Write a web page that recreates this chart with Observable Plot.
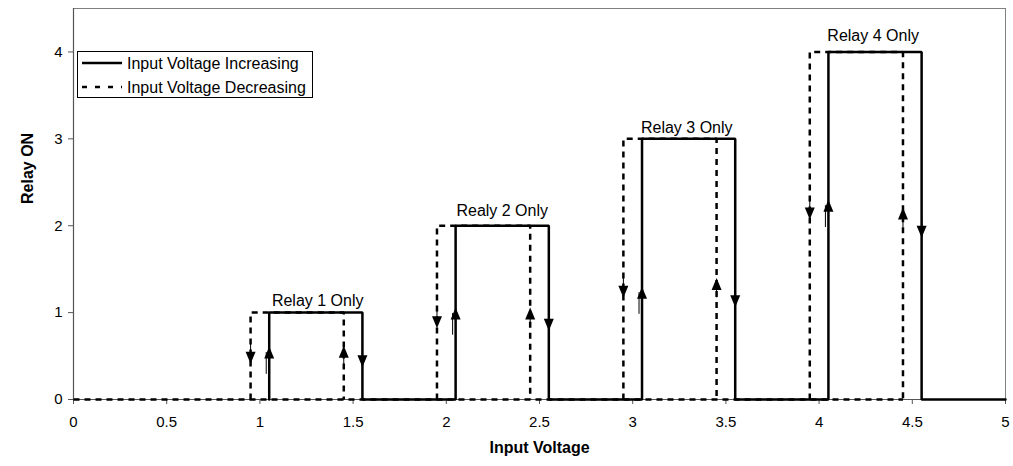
<!DOCTYPE html>
<html>
<head>
<meta charset="utf-8">
<script src="https://cdn.jsdelivr.net/npm/d3@7"></script>
<script src="https://cdn.jsdelivr.net/npm/@observablehq/plot@0.6"></script>
<style>
  html, body { margin: 0; padding: 0; background: #fff; }
  #wrap { position: relative; width: 1013px; height: 466px; font-family: "Liberation Sans", Arial, sans-serif; }
  #legend { position: absolute; left: 77px; top: 51px; width: 234px; height: 45px; border: 1px solid #000; background: #fff; }
  #legend svg { position: absolute; left: 0; top: 0; }
</style>
</head>
<body>
<div id="wrap"></div>
<script>
// Increasing input voltage (solid) path
const incX = [1.05, 1.05, 1.55, 1.55, 2.05, 2.05, 2.55, 2.55, 3.05, 3.05, 3.55, 3.55, 4.05, 4.05, 4.55, 4.55, 5];
const incY = [0, 1, 1, 0, 0, 2, 2, 0, 0, 3, 3, 0, 0, 4, 4, 0, 0];

// Decreasing input voltage (dashed) pieces
const decSeg = [0, 0, 1, 1, 1, 1, 2, 2, 2, 2, 3, 3, 3, 3, 4, 4, 4, 4];
const decX = [0, 4.45, 0.95, 0.95, 1.45, 1.45, 1.95, 1.95, 2.45, 2.45, 2.95, 2.95, 3.45, 3.45, 3.95, 3.95, 4.45, 4.45];
const decY = [0, 0, 0, 1, 1, 0, 0, 2, 2, 0, 0, 3, 3, 0, 0, 4, 4, 0];

// Direction arrows (centre of arrowhead)
const arrowX   = [0.95, 1.95, 2.95, 3.95, 1.05, 2.05, 3.05, 4.05, 1.45, 2.45, 3.45, 4.45, 1.55, 2.55, 3.55, 4.55];
const arrowY   = [0.48, 0.89, 1.24, 2.14, 0.54, 0.99, 1.23, 2.23, 0.55, 0.99, 1.33, 2.14, 0.44, 0.86, 1.13, 1.93];
const arrowDir = ["down","down","down","down","up","up","up","up","up","up","up","up","down","down","down","down"];
const arrowSeries = ["dec","dec","dec","dec","inc","inc","inc","inc","dec","dec","dec","dec","inc","inc","inc","inc"];

// Annotations
const labelText = ["Relay 1 Only", "Realy 2 Only", "Relay 3 Only", "Relay 4 Only"];
const labelX = [1.31, 2.30, 3.29, 4.29];
const labelY = [1.08, 2.11, 3.07, 4.13];

const xTicks = [0, 0.5, 1, 1.5, 2, 2.5, 3, 3.5, 4, 4.5, 5];
const yTicks = [0, 1, 2, 3, 4];
const legendLabels = ["Input Voltage Increasing", "Input Voltage Decreasing"];

const inc = incX.map((x, i) => ({x, y: incY[i]}));
const dec = decX.map((x, i) => ({x, y: decY[i], seg: decSeg[i]}));
const arrows = arrowX.map((x, i) => ({x, y: arrowY[i], dir: arrowDir[i], s: arrowSeries[i]}));
const labels = labelText.map((t, i) => ({t, x: labelX[i], y: labelY[i]}));

const upTri = {draw(ctx) { ctx.moveTo(0, -6); ctx.lineTo(5, 6); ctx.lineTo(-5, 6); ctx.closePath(); }};
const downTri = {draw(ctx) { ctx.moveTo(0, 6); ctx.lineTo(5, -6); ctx.lineTo(-5, -6); ctx.closePath(); }};

const ups = arrows.filter(d => d.dir === "up");
const downs = arrows.filter(d => d.dir === "down");
const upsInc = ups.filter(d => d.s === "inc");
const upsDec = ups.filter(d => d.s === "dec");

const chart = Plot.plot({
  width: 1013,
  height: 466,
  marginTop: 8,
  marginRight: 8,
  marginBottom: 67,
  marginLeft: 73,
  style: {fontFamily: "'Liberation Sans', Arial, sans-serif", fontSize: "15px", color: "#000", background: "#fff"},
  x: {domain: [0, 5]},
  y: {domain: [0, 4.5]},
  marks: [
    Plot.frame({stroke: "#808080", strokeWidth: 1}),
    Plot.ruleX([0], {stroke: "#555", strokeWidth: 1.2}),
    Plot.ruleY([0], {stroke: "#555", strokeWidth: 1.2}),
    Plot.axisX({ticks: xTicks, tickFormat: d3.format(""), tickSize: 5, tickPadding: 12, stroke: "#555", label: null, fontSize: 15}),
    Plot.axisY({ticks: yTicks, tickFormat: d3.format(""), tickSize: 5, tickPadding: 6, stroke: "#555", label: null, fontSize: 15}),
    Plot.line(dec, {x: "x", y: "y", z: "seg", stroke: "#000", strokeWidth: 2.5, strokeDasharray: "6,5", strokeLinecap: "butt", strokeLinejoin: "miter", curve: "linear"}),
    Plot.line(inc, {x: "x", y: "y", stroke: "#000", strokeWidth: 2.5, strokeLinejoin: "miter"}),
    // arrow stems
    Plot.ruleX(upsInc, {x: "x", y1: d => d.y, y2: d => d.y - 0.25, stroke: "#000", strokeWidth: 1, dx: -3}),
    Plot.ruleX(upsDec, {x: "x", y1: d => d.y, y2: d => d.y - 0.16, stroke: "#000", strokeWidth: 1}),
    Plot.ruleX(downs, {x: "x", y1: d => d.y, y2: d => d.y + 0.16, stroke: "#000", strokeWidth: 1}),
    Plot.dot(ups, {x: "x", y: "y", symbol: upTri, fill: "#000", stroke: "none", r: 5}),
    Plot.dot(downs, {x: "x", y: "y", symbol: downTri, fill: "#000", stroke: "none", r: 5}),
    Plot.text(labels, {x: "x", y: "y", text: "t", fontSize: 16, textAnchor: "middle", lineAnchor: "bottom", fill: "#000"}),
    Plot.text(["Input Voltage"], {frameAnchor: "bottom", dy: 53, fontWeight: "bold", fontSize: 16, fill: "#000"}),
    Plot.text(["Relay ON"], {frameAnchor: "left", dx: -46, rotate: -90, fontWeight: "bold", fontSize: 16, fill: "#000"})
  ]
});

const wrap = document.getElementById("wrap");
wrap.appendChild(chart);

// Legend overlay
const legend = document.createElement("div");
legend.id = "legend";
const ns = "http://www.w3.org/2000/svg";
const lsvg = document.createElementNS(ns, "svg");
lsvg.setAttribute("width", 234);
lsvg.setAttribute("height", 45);
legendLabels.forEach((lab, i) => {
  const yy = 11 + i * 24;
  const ln = document.createElementNS(ns, "line");
  ln.setAttribute("x1", 4); ln.setAttribute("x2", 44);
  ln.setAttribute("y1", yy); ln.setAttribute("y2", yy);
  ln.setAttribute("stroke", "#000"); ln.setAttribute("stroke-width", 2.5);
  if (i === 1) ln.setAttribute("stroke-dasharray", "5,8");
  lsvg.appendChild(ln);
  const tx = document.createElementNS(ns, "text");
  tx.setAttribute("x", 49); tx.setAttribute("y", yy + 6);
  tx.setAttribute("font-size", 16);
  tx.setAttribute("font-family", "'Liberation Sans', Arial, sans-serif");
  tx.textContent = lab;
  lsvg.appendChild(tx);
});
legend.appendChild(lsvg);
wrap.appendChild(legend);
</script>
</body>
</html>
